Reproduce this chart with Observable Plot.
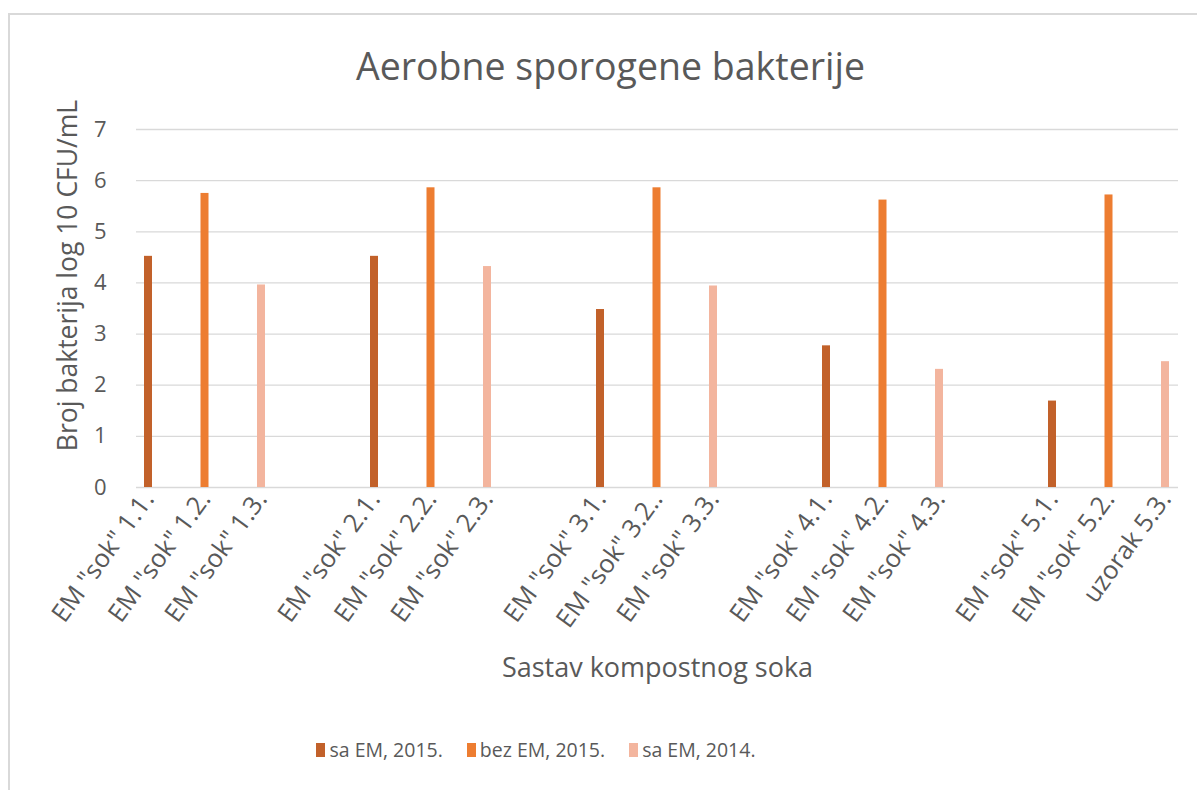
<!DOCTYPE html>
<html><head><meta charset="utf-8">
<script src="https://cdn.jsdelivr.net/npm/d3@7"></script>
<script src="https://cdn.jsdelivr.net/npm/@observablehq/plot@0.6"></script>
<style>
html,body{margin:0;padding:0;background:#fff}
body{width:1197px;height:790px;position:relative;overflow:hidden;font-family:"Open Sans",sans-serif;color:#595959}
#frame{position:absolute;left:8px;top:13px;width:1189px;height:777px;box-sizing:border-box;border-top:2px solid #d9d9d9;border-left:2px solid #d9d9d9}
#title{position:absolute;left:0;width:1221px;top:40px;text-align:center;font-size:37.5px}
#chart{position:absolute;left:0;top:100px}
#legend{position:absolute;top:736px;left:0;width:1197px;display:flex;justify-content:center;font-size:19.5px;padding-right:125px;box-sizing:border-box}
.item{display:flex;align-items:center;margin:0 12px}
.sw{width:9px;height:14px;margin-right:4px}
</style>
</head><body>
<div id="frame"></div>
<div id="title">Aerobne sporogene bakterije</div>
<div id="chart"></div>
<div id="legend"></div>
<script>
const labels = ['EM "sok" 1.1.','EM "sok" 1.2.','EM "sok" 1.3.',
  'EM "sok" 2.1.','EM "sok" 2.2.','EM "sok" 2.3.',
  'EM "sok" 3.1.','EM "sok" 3.2..','EM "sok" 3.3.',
  'EM "sok" 4.1.','EM "sok" 4.2.','EM "sok" 4.3.',
  'EM "sok" 5.1.','EM "sok" 5.2.','uzorak 5.3.'];
const seriesNames = ["sa EM, 2015.","bez EM, 2015.","sa EM, 2014."];
const seriesOfBar = [0,1,2, 0,1,2, 0,1,2, 0,1,2, 0,1,2];
const values = [4.52,5.75,3.96, 4.52,5.86,4.32, 3.48,5.86,3.94, 2.77,5.62,2.31, 1.69,5.72,2.46];
const colors = ["#C2612A","#ED7D31","#F3B59E"];
const yTicks = [0,1,2,3,4,5,6,7];

const data = labels.map((l,i)=>({label:l, series:seriesNames[seriesOfBar[i]], value:values[i]}));
// band domain: groups of three with an empty slot between groups
const domain = [];
labels.forEach((l,i)=>{ domain.push(l); if (i%3===2 && i<labels.length-1) domain.push("__gap"+i); });

const W = 1197, H = 600;
const mL = 136, mR = 19, mT = 29, mB = 213;
const step = (1165-148)/(domain.length-1);
const chart = Plot.plot({
  width: W, height: H,
  marginLeft: mL, marginRight: mR, marginTop: mT, marginBottom: mB,
  style: {fontFamily: '"Open Sans", sans-serif', color: "#595959", background: "transparent", overflow: "visible"},
  x: {type: "band", domain, range: [148 - step/2, 1165 + step/2], padding: 0, round: false, label: null},
  y: {domain: [0,7], label: null},
  color: {domain: seriesNames, range: colors},
  marks: [
    Plot.ruleY(yTicks, {stroke: "#d9d9d9", strokeWidth: 1.3}),
    Plot.barY(data, {x: "label", y: "value", fill: "series", insetLeft: step/2-4, insetRight: step/2-4}),
    Plot.axisY({ticks: yTicks, tickFormat: "d", tickSize: 0, tickPadding: 30, fontSize: 22, label: null}),
    Plot.axisX({ticks: labels, tickSize: 0, tickRotate: -54, tickPadding: 7, fontSize: 25.5, label: null}),
    Plot.text(["Broj bakterija log 10 CFU/mL"], {frameAnchor: "left", textAnchor: "middle", dx: -68, dy: -33, rotate: -90, fontSize: 26.5, fill: "#595959"}),
    Plot.text(["Sastav kompostnog soka"], {frameAnchor: "bottom", dy: 189, fontSize: 27, fill: "#595959"})
  ]
});
document.getElementById("chart").appendChild(chart);

const leg = document.getElementById("legend");
seriesNames.forEach((s,i)=>{
  const it = document.createElement("div"); it.className="item";
  const sw = document.createElement("div"); sw.className="sw"; sw.style.background=colors[i];
  const tx = document.createElement("span"); tx.textContent = s;
  it.appendChild(sw); it.appendChild(tx); leg.appendChild(it);
});
</script>
</body></html>
